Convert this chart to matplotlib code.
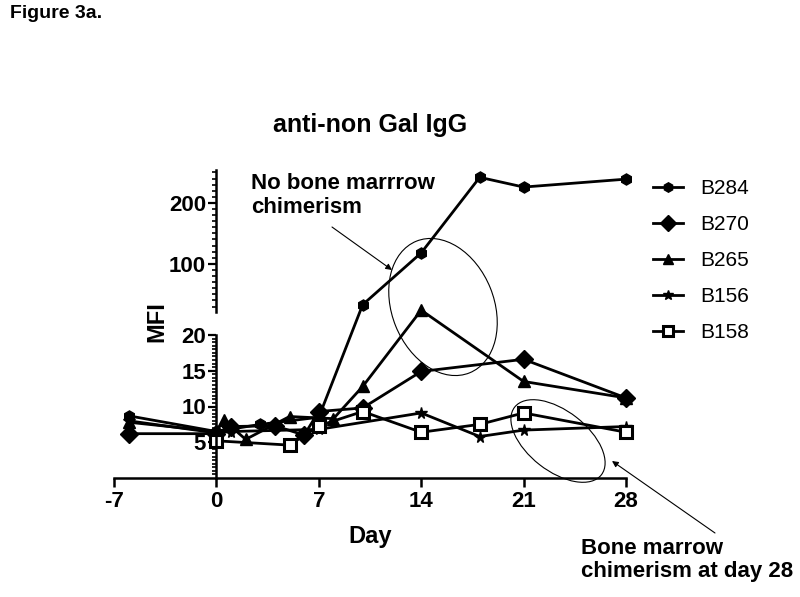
import numpy as np
import matplotlib
matplotlib.use('Agg')
import matplotlib.pyplot as plt
from matplotlib.patches import Ellipse, FancyArrowPatch
from matplotlib.ticker import FixedLocator, NullFormatter

plt.rcParams['font.family'] = ['Liberation Sans', 'DejaVu Sans']
plt.rcParams['axes.unicode_minus'] = False

# ---------------- data ----------------
series_names = ['B284', 'B270', 'B265', 'B156', 'B158']
days_B284 = [-6, 0, 3, 7, 10, 14, 18, 21, 28]
mfi_B284 = [8.7, 6.5, 7.5, 8.5, 33, 118, 242, 226, 239]
days_B270 = [-6, 0, 1, 4, 6, 7, 10, 14, 21, 28]
mfi_B270 = [6.2, 6.2, 7.2, 7.3, 6.0, 9.3, 9.8, 14.9, 16.6, 11.2]
days_B265 = [-6, 0, 0.5, 2, 5, 8, 10, 14, 21, 28]
mfi_B265 = [7.8, 6.5, 8.1, 5.4, 8.6, 8.3, 12.8, 24, 13.5, 11.2]
days_B156 = [-6, 0, 1, 7, 14, 18, 21, 28]
mfi_B156 = [8.0, 6.3, 6.5, 6.8, 9.1, 5.8, 6.7, 7.2]
days_B158 = [0, 5, 7, 10, 14, 18, 21, 28]
mfi_B158 = [5.2, 4.6, 7.3, 9.3, 6.4, 7.5, 9.1, 6.4]

x_ticks = [-7, 0, 7, 14, 21, 28]
y_ticks_low = [5, 10, 15, 20]
y_ticks_high = [100, 200]

# ---------------- broken-axis scale ----------------
BRK_V = [0.0, 20.0, 21.0, 254.0]
BRK_T = [0.0, 143.0, 166.0, 308.0]
S_LO = (BRK_T[1] - BRK_T[0]) / (BRK_V[1] - BRK_V[0])
S_HI = (BRK_T[3] - BRK_T[2]) / (BRK_V[3] - BRK_V[2])


def fwd(v):
    v = np.asarray(v, float)
    out = np.interp(v, BRK_V, BRK_T)
    out = np.where(v < BRK_V[0], BRK_T[0] + (v - BRK_V[0]) * S_LO, out)
    out = np.where(v > BRK_V[-1], BRK_T[-1] + (v - BRK_V[-1]) * S_HI, out)
    return out


def inv(t):
    t = np.asarray(t, float)
    out = np.interp(t, BRK_T, BRK_V)
    out = np.where(t < BRK_T[0], BRK_V[0] + (t - BRK_T[0]) / S_LO, out)
    out = np.where(t > BRK_T[-1], BRK_V[-1] + (t - BRK_T[-1]) / S_HI, out)
    return out


W, H = 800, 597
fig = plt.figure(figsize=(W / 100, H / 100), dpi=100)
ax = fig.add_axes([114 / W, 1 - 478 / H, 512 / W, 308 / H])
ax.set_yscale('function', functions=(fwd, inv))
ax.set_xlim(-7, 28)
ax.set_ylim(0, 254)

styles = {
    'B284': dict(marker='h', markersize=8, mfc='k'),
    'B270': dict(marker='D', markersize=9, mfc='k'),
    'B265': dict(marker='^', markersize=8, mfc='k'),
    'B156': dict(marker='*', markersize=8.5, mfc='k'),
    'B158': dict(marker='s', markersize=8, mfc='white', mew=2.2),
}
data = {
    'B284': (days_B284, mfi_B284),
    'B270': (days_B270, mfi_B270),
    'B265': (days_B265, mfi_B265),
    'B156': (days_B156, mfi_B156),
    'B158': (days_B158, mfi_B158),
}
handles = []
for name in series_names:
    d, v = data[name]
    h, = ax.plot(d, v, color='k', lw=2.0, mec='k', clip_on=False,
                 label=name, **styles[name])
    handles.append(h)

# lower axis styling
for s in ['top', 'right']:
    ax.spines[s].set_visible(False)
ax.spines['left'].set_position(('data', 0))
ax.spines['left'].set_bounds(0, 20)
ax.spines['left'].set_linewidth(1.8)
ax.spines['bottom'].set_linewidth(1.8)
ax.xaxis.set_major_locator(FixedLocator(x_ticks))
ax.yaxis.set_major_locator(FixedLocator(y_ticks_low))
ax.yaxis.set_minor_locator(FixedLocator(np.arange(0.5, 20.01, 0.5)))
ax.yaxis.set_minor_formatter(NullFormatter())
ax.tick_params(axis='x', which='major', length=6.5, width=1.8, pad=3,
               labelsize=16)
ax.tick_params(axis='y', which='major', length=5.5, width=1.6, pad=2,
               labelsize=16)
ax.tick_params(axis='y', which='minor', length=3, width=1.2)
for lab in ax.get_xticklabels() + ax.get_yticklabels():
    lab.set_fontweight('bold')

# upper axis segment
axu = ax.twinx()
axu.set_yscale('function', functions=(fwd, inv))
axu.set_ylim(0, 254)
for s in ['top', 'right', 'bottom']:
    axu.spines[s].set_visible(False)
axu.spines['left'].set_visible(True)
axu.spines['left'].set_position(('data', 0))
axu.spines['left'].set_bounds(21, 254)
axu.spines['left'].set_linewidth(1.8)
axu.yaxis.tick_left()
axu.yaxis.set_major_locator(FixedLocator(y_ticks_high))
axu.yaxis.set_minor_locator(FixedLocator(np.arange(30, 251, 10)))
axu.yaxis.set_minor_formatter(NullFormatter())
axu.tick_params(axis='y', which='major', length=5.5, width=1.6, pad=2,
                labelsize=16, labelleft=True, labelright=False)
axu.tick_params(axis='y', which='minor', length=3, width=1.2)
for lab in axu.get_yticklabels():
    lab.set_fontweight('bold')

# legend
ax.legend(handles=handles, loc='upper left',
          bbox_to_anchor=(653 / W, 1 - 179 / H), bbox_transform=fig.transFigure,
          frameon=False, borderpad=0, borderaxespad=0, handlelength=1.45,
          handletextpad=0.8, labelspacing=0.82, prop={'size': 15},
          markerscale=0.85)

# texts
fig.text(10 / W, 1 - 5 / H, 'Figure 3a.', fontsize=14, fontweight='bold',
         ha='left', va='top')
fig.text(370 / W, 1 - 125 / H, 'anti-non Gal IgG', fontsize=18,
         fontweight='bold', ha='center', va='center')
fig.text(157 / W, 1 - 322 / H, 'MFI', fontsize=17, fontweight='bold',
         rotation=90, ha='center', va='center')
fig.text(370 / W, 1 - 537 / H, 'Day', fontsize=17, fontweight='bold',
         ha='center', va='center')
fig.text(251 / W, 1 - 173 / H, 'No bone marrrow\nchimerism', fontsize=16,
         fontweight='bold', ha='left', va='top', linespacing=1.2)
fig.text(581 / W, 1 - 538 / H, 'Bone marrow\nchimerism at day 28',
         fontsize=16, fontweight='bold', ha='left', va='top', linespacing=1.15)

# arrows (inches, origin bottom-left)
arrow_kw = dict(arrowstyle='-|>', lw=0.8, color='k', mutation_scale=9,
                shrinkA=0, shrinkB=0)
fig.add_artist(FancyArrowPatch(
    (332 / 100, (H - 227) / 100), (392 / 100, (H - 270) / 100),
    transform=fig.dpi_scale_trans, **arrow_kw))
fig.add_artist(FancyArrowPatch(
    (715 / 100, (H - 533) / 100), (612 / 100, (H - 461) / 100),
    transform=fig.dpi_scale_trans, **arrow_kw))

# ellipses
fig.add_artist(Ellipse((443 / 100, (H - 307) / 100), 102 / 100, 142 / 100,
                       angle=22, fill=False, lw=0.8, ec='k',
                       transform=fig.dpi_scale_trans))
fig.add_artist(Ellipse((558 / 100, (H - 441) / 100), 60 / 100, 110 / 100,
                       angle=52, fill=False, lw=0.8, ec='k',
                       transform=fig.dpi_scale_trans))

fig.savefig('out.png', dpi=100)
